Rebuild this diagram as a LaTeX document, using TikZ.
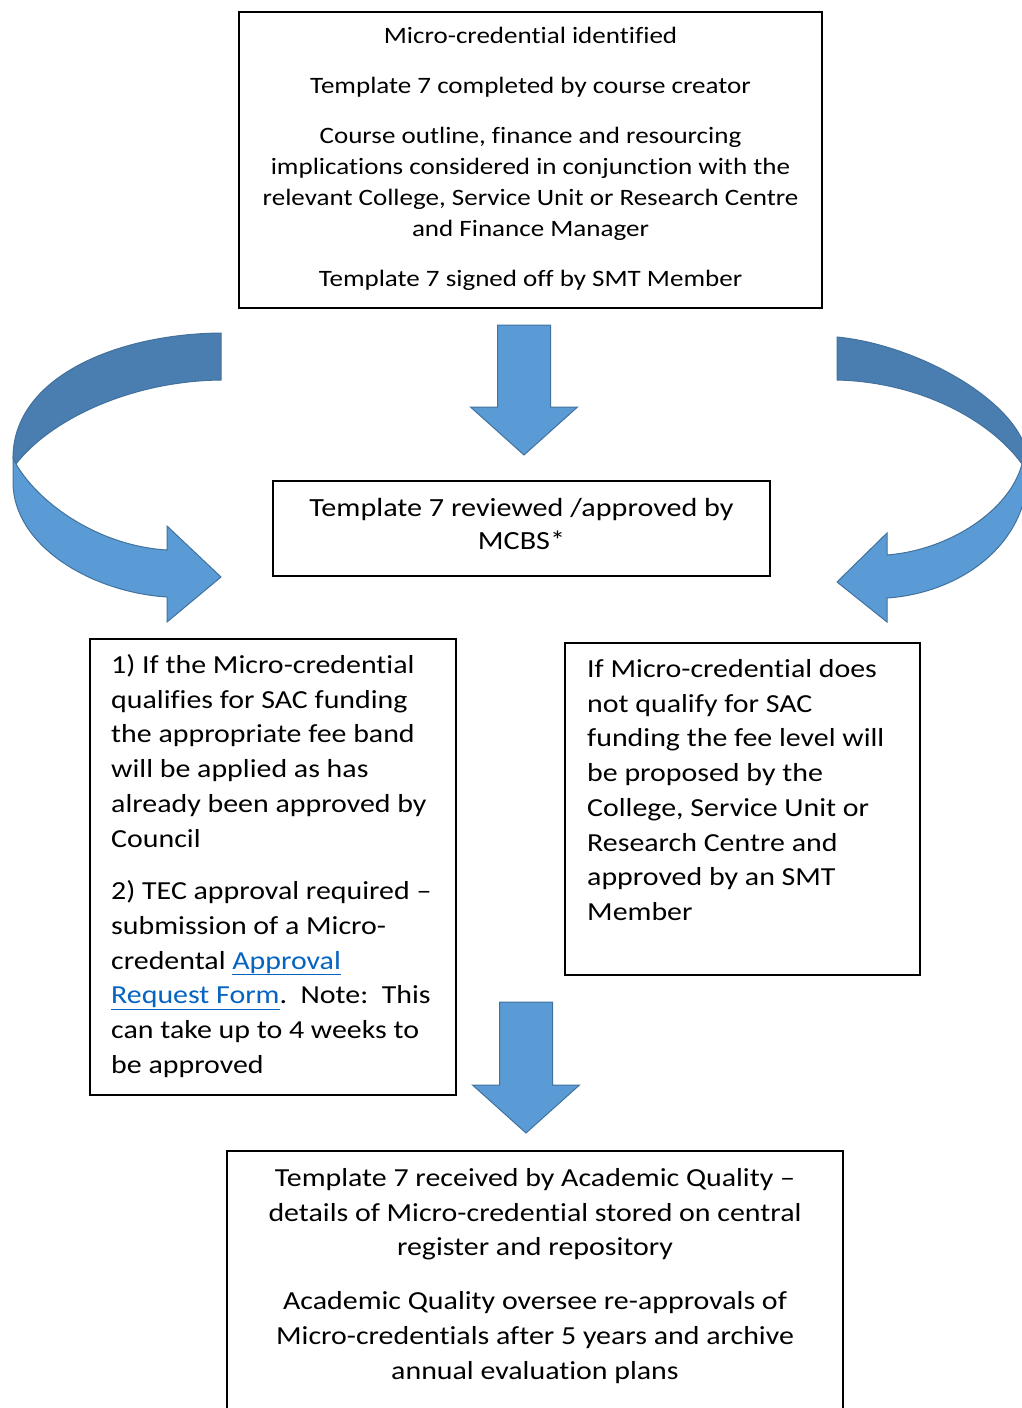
\documentclass[tikz,border=0pt]{standalone}
\usepackage{fontspec}
\setmainfont{Carlito}[FakeStretch=1.15, Ligatures=NoCommon]
\usetikzlibrary{positioning}

\definecolor{arrowblue}{HTML}{5B9BD5}
\definecolor{arrowback}{HTML}{4A7EB0}
\definecolor{arrowedge}{HTML}{41719C}
\definecolor{linkblue}{HTML}{0563C1}
\newcommand{\weblink}[1]{\textcolor{linkblue}{\underline{#1}}}

\begin{document}
\begin{tikzpicture}[x=1pt,y=-1pt,
	box/.style={draw, line width=2.5pt, inner sep=0pt, outer sep=0pt, anchor=north west},
	smalltxt/.style={inner sep=0pt, align=center, font=\fontsize{23.5}{31}\selectfont},
	bigtxt/.style={inner sep=0pt, font=\fontsize{26}{34.7}\selectfont},
	blockarrow/.style={fill=arrowblue, draw=arrowedge, line width=1pt, line join=miter},
	backarrow/.style={fill=arrowback, draw=arrowedge, line width=1pt}]

	\useasboundingbox (0,0) rectangle (1022,1408);
	\clip (0,0) rectangle (1022,1408);

	% boxes
	\node[box, minimum width=583, minimum height=296] (ident) at (239,12) {};
	\node[box, minimum width=497, minimum height=95] (review) at (273,481) {};
	\node[box, minimum width=366, minimum height=456] (lfund) at (90,639) {};
	\node[box, minimum width=355, minimum height=332] (rfund) at (565,643) {};
	\node[box, minimum width=616, minimum height=290] (aq) at (227,1151) {};

	% texts
	\node[smalltxt, below=10pt of ident.north] (identtext) {\strut Micro-credential identified\\[19pt]
		Template 7 completed by course creator\\[19pt]
		Course outline, finance and resourcing\\
		implications considered in conjunction with the\\
		relevant College, Service Unit or Research Centre\\
		and Finance Manager\\[19pt]
		Template 7 signed off by SMT Member};
	\node[bigtxt, align=center, font=\fontsize{26.2}{33}\selectfont, below=12pt of review.north] (reviewtext) {\strut Template 7 reviewed /approved by\\ MCBS*};
	\node[bigtxt, align=left, below right=10pt and 21pt of lfund.north west] (lfundtext) {\strut 1) If the Micro-credential\\
		qualifies for SAC funding\\
		the appropriate fee band\\
		will be applied as has\\
		already been approved by\\
		Council\\[18pt]
		2) TEC approval required –\\
		submission of a Micro-\\
		credental \weblink{Approval}\\
		\weblink{Request Form}.\ \ Note:\ \ This\\
		can take up to 4 weeks to\\
		be approved};
	\node[bigtxt, align=left, below right=10pt and 22pt of rfund.north west] (rfundtext) {\strut If Micro-credential does\\
		not qualify for SAC\\
		funding the fee level will\\
		be proposed by the\\
		College, Service Unit or\\
		Research Centre and\\
		approved by an SMT\\
		Member};
	\node[bigtxt, align=center, below=11pt of aq.north] (aqtext) {\strut Template 7 received by Academic Quality –\\
		details of Micro-credential stored on central\\
		register and repository\\[19pt]
		Academic Quality oversee re-approvals of\\
		Micro-credentials after 5 years and archive\\
		annual evaluation plans};

	% straight arrows
	\foreach \cx/\ytop/\ytip in {524/325/455, 526/1002/1133} {
		\draw[blockarrow] (\cx-26.5,\ytop) -- (\cx+26.5,\ytop) -- (\cx+26.5,\ytip-48) -- (\cx+53.5,\ytip-48)
			-- (\cx,\ytip) -- (\cx-53.5,\ytip-48) -- (\cx-26.5,\ytip-48) -- cycle;
	}

	% curved arrow, left
	\draw[backarrow] (221,333) .. controls (115,334) and (13,378) .. (13,458) -- (16,464)
		.. controls (50,420) and (130,381) .. (221,380) -- cycle;
	\draw[blockarrow] (16,464) .. controls (40,505) and (100,546) .. (167,550) -- (167,526) -- (221,577)
		-- (167,622) -- (167,597) .. controls (90,592) and (13,545) .. (13,482) -- (13,458) -- cycle;

	% curved arrow, right
	\draw[backarrow] (837,337) .. controls (920,345) and (1026,405) .. (1028,462) -- (1022,464)
		.. controls (990,420) and (920,382) .. (837,380) -- cycle;
	\draw[blockarrow] (1022,464) .. controls (1010,510) and (950,550) .. (887,555) -- (887,533) -- (837,582)
		-- (887,622) -- (887,598) .. controls (960,593) and (1028,545) .. (1028,470) -- (1028,462) -- cycle;

\end{tikzpicture}
\end{document}
